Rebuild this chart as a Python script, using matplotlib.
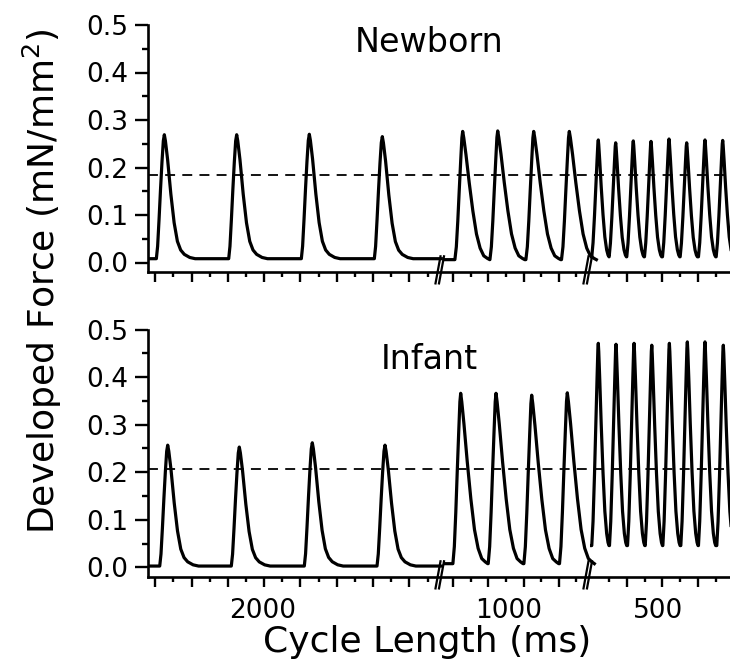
import numpy as np
import matplotlib.pyplot as plt

# pacing blocks (cycle length, ms) and where their labels sit on the time axis
cl_labels = ['2000', '1000', '500']
cl_label_t = [2968, 9731, 13858]

# peak times (ms) and peak developed force (mN/mm^2) for every beat, per block
nb_peak_t = [[250, 2243, 4244, 6255],
             [8469, 9434, 10425, 11406],
             [12205, 12684, 13169, 13657, 14153, 14640, 15144, 15632]]
nb_peak_f = [[0.269, 0.269, 0.270, 0.265],
             [0.276, 0.277, 0.276, 0.276],
             [0.258, 0.252, 0.256, 0.255, 0.260, 0.252, 0.258, 0.257]]
nb_base = [0.008, 0.006, 0.012]

inf_peak_t = [[343, 2315, 4326, 6329],
              [8414, 9387, 10370, 11351],
              [12205, 12693, 13190, 13678, 14163, 14658, 15144, 15649]]
inf_peak_f = [[0.257, 0.253, 0.262, 0.257],
              [0.366, 0.366, 0.362, 0.367],
              [0.471, 0.469, 0.471, 0.467, 0.471, 0.474, 0.474, 0.467]]
inf_base = [0.003, 0.008, 0.046]

# dashed reference level for each group
ref_level = [0.185, 0.206]

# twitch shape per block: time from peak (ms) -> fraction of amplitude
shape_dt = [[-220, -185, -145, -105, -65, -28, 0, 30, 90, 180, 270, 360, 450, 550, 700, 850],
            [-215, -175, -135, -95, -55, -22, 0, 30, 90, 180, 280, 380, 480, 580, 680, 745],
            [-180, -145, -105, -68, -34, -12, 0, 12, 40, 80, 130, 180, 230, 268, 295]]
shape_f = [[0, 0.1, 0.32, 0.56, 0.78, 0.95, 1.0, 0.95, 0.8, 0.52, 0.29, 0.14, 0.07, 0.035, 0.01, 0],
           [0, 0.1, 0.3, 0.54, 0.77, 0.95, 1.0, 0.95, 0.82, 0.6, 0.38, 0.2, 0.09, 0.03, 0.01, 0],
           [0, 0.12, 0.35, 0.6, 0.83, 0.97, 1.0, 0.96, 0.82, 0.6, 0.36, 0.17, 0.06, 0.015, 0]]

# recording windows of the three blocks and the axis breaks between them
seg_start = [-200, 7990, 12020]
seg_end = [7880, 11840, 15950]
breaks_t = [7844, 11921]

# x ticks of each block (ms); every other one is long
seg_tick0 = [0, 8208, 12500]
seg_tick_step = [500, 485, 490]
seg_tick_n = [16, 8, 7]
seg_major_first = [True, True, False]

XMIN, XMAX = -200, 15833
YMIN, YMAX = -0.02, 0.5
MS_PER_PX = 27.55


def block_trace(peaks_t, peaks_f, base, dt, fr, t0, t1):
    dt = np.array(dt, dtype=float)
    fr = np.array(fr, dtype=float)
    t = np.concatenate([p + dt for p in peaks_t])
    y = np.concatenate([base + (pk - base) * fr for pk in peaks_f])
    if t0 < t[0]:
        t = np.r_[t0, t]
        y = np.r_[base, y]
    if t1 > t[-1]:
        t = np.r_[t, t1]
        y = np.r_[y, base]
    return t, y


def draw_panel(ax, peak_t, peak_f, base, level, title, title_y):
    for k in range(3):
        t, y = block_trace(peak_t[k], peak_f[k], base[k], shape_dt[k], shape_f[k],
                           seg_start[k], seg_end[k])
        ax.plot(t, y, color='black', lw=2.3, solid_joinstyle='round')
    ax.axhline(level, color='black', lw=1.3, dashes=(5.5, 4))

    ax.set_xlim(XMIN, XMAX)
    ax.set_ylim(YMIN, YMAX)
    ax.spines[['top', 'right']].set_visible(False)
    for s in ['left', 'bottom']:
        ax.spines[s].set_linewidth(1.9)

    ax.set_yticks(np.arange(0, 0.51, 0.1))
    ax.set_yticklabels(['%.1f' % v for v in np.arange(0, 0.51, 0.1)])
    ax.set_yticks(np.arange(0.05, 0.5, 0.1), minor=True)

    major, minor = [], []
    for k in range(3):
        for i in range(seg_tick_n[k]):
            tk = seg_tick0[k] + i * seg_tick_step[k]
            if (i % 2 == 0) == seg_major_first[k]:
                major.append(tk)
            else:
                minor.append(tk)
    ax.set_xticks(major)
    ax.set_xticks(minor, minor=True)
    ax.set_xticklabels([])

    ax.tick_params(which='major', direction='out', width=1.7, length=9.5, labelsize=19, pad=5)
    ax.tick_params(which='minor', direction='out', width=1.7, length=4.5)
    ax.tick_params(axis='x', which='major', length=7.5)
    ax.tick_params(axis='x', which='minor', length=3.8)

    # break marks across the trace and the time axis
    for tb in breaks_t:
        for off in [-4.5, -1.0]:
            ax.plot([tb + off * MS_PER_PX, tb + (off + 5) * MS_PER_PX],
                    [-0.044, 0.013], color='black', lw=1.6, clip_on=False)

    ax.text(7541, title_y, title, ha='center', va='baseline', fontsize=24)


fig = plt.figure(figsize=(7.3, 6.63), dpi=100)
ax_top = fig.add_axes([148 / 730, 1 - 272 / 663, 582 / 730, 247 / 663])
ax_bot = fig.add_axes([148 / 730, 1 - 577 / 663, 582 / 730, 247.5 / 663])

draw_panel(ax_top, nb_peak_t, nb_peak_f, nb_base, ref_level[0], 'Newborn', 0.443)
draw_panel(ax_bot, inf_peak_t, inf_peak_f, inf_base, ref_level[1], 'Infant', 0.418)

for lab, tl in zip(cl_labels, cl_label_t):
    ax_bot.text(tl, -0.107, lab, ha='center', va='baseline', fontsize=19)

fig.text(427.5 / 730, 1 - 652 / 663, 'Cycle Length (ms)', ha='center', va='baseline',
         fontsize=26)
fig.text(42 / 730, 1 - 281.5 / 663, 'Developed Force (mN/mm$^2$)', ha='center',
         va='center', rotation=90, fontsize=26)

fig.savefig('out.png', dpi=100)
